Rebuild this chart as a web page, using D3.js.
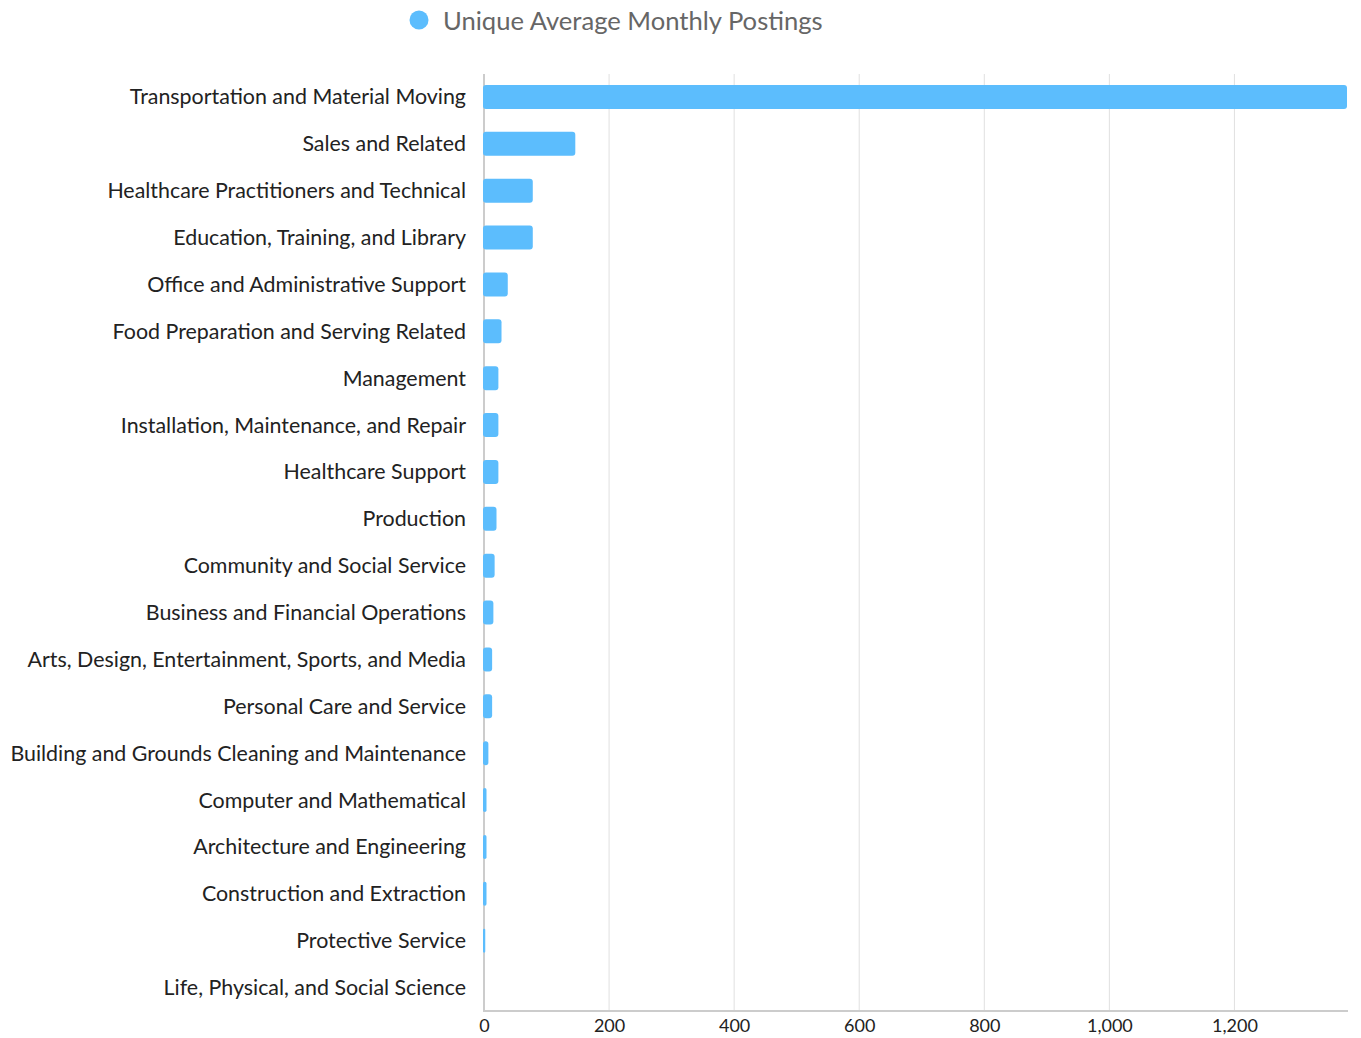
<!DOCTYPE html>
<html>
<head>
<meta charset="utf-8">
<script src="https://cdn.jsdelivr.net/npm/d3@7"></script>
<style>
  html, body { margin: 0; padding: 0; background: #fff; }
  svg text { font-family: Lato, "Open Sans", sans-serif; }
</style>
</head>
<body>
<div id="chart"></div>
<script>
// Occupation groups, largest first
const categories = [
  "Transportation and Material Moving",
  "Sales and Related",
  "Healthcare Practitioners and Technical",
  "Education, Training, and Library",
  "Office and Administrative Support",
  "Food Preparation and Serving Related",
  "Management",
  "Installation, Maintenance, and Repair",
  "Healthcare Support",
  "Production",
  "Community and Social Service",
  "Business and Financial Operations",
  "Arts, Design, Entertainment, Sports, and Media",
  "Personal Care and Service",
  "Building and Grounds Cleaning and Maintenance",
  "Computer and Mathematical",
  "Architecture and Engineering",
  "Construction and Extraction",
  "Protective Service",
  "Life, Physical, and Social Science"
];
const postings = [1380, 146, 78, 78, 38, 28, 23, 23, 23, 20, 17, 15, 13, 13, 7, 4, 4, 4, 2, 0];
const xTicks = [0, 200, 400, 600, 800, 1000, 1200];
const seriesName = "Unique Average Monthly Postings";

const W = 1361, H = 1038;
const margin = { top: 73.5, right: 14, bottom: 27, left: 484 };

const svg = d3.select("#chart").append("svg")
  .attr("width", W).attr("height", H);

const x = d3.scaleLinear()
  .domain([0, d3.max(postings)])
  .range([margin.left, W - margin.right]);

const y = d3.scaleBand()
  .domain(categories)
  .range([margin.top, H - margin.bottom])
  .paddingInner(0.49)
  .paddingOuter(0.245);

// vertical grid lines
svg.append("g")
  .selectAll("line")
  .data(xTicks.filter(d => d > 0))
  .join("line")
  .attr("x1", d => x(d)).attr("x2", d => x(d))
  .attr("y1", 74).attr("y2", H - margin.bottom)
  .attr("stroke", "#e0e0e0").attr("stroke-width", 1);

// left axis line
svg.append("line")
  .attr("x1", x(0)).attr("x2", x(0))
  .attr("y1", 74).attr("y2", H - margin.bottom)
  .attr("stroke", "#cccccc").attr("stroke-width", 2);

// bottom axis
const xAxis = svg.append("g")
  .attr("transform", `translate(0,${H - margin.bottom})`)
  .call(d3.axisBottom(x).tickValues(xTicks).tickFormat(d3.format(",")).tickSize(0).tickPadding(8));
xAxis.select(".domain").attr("stroke", "#cccccc").attr("stroke-width", 2)
  .attr("d", `M${x(0) - 1},0H${x.range()[1] + 1}`);
xAxis.selectAll("text")
  .attr("font-size", 18).attr("fill", "#222")
  .style("font-family", "Lato, sans-serif");

// bars, drawn over the axis line
const data = categories.map((c, i) => ({ c, v: postings[i] }));
svg.append("g")
  .selectAll("rect")
  .data(data.filter(d => d.v > 0))
  .join("rect")
  .attr("x", x(0) - 1)
  .attr("y", d => y(d.c))
  .attr("width", d => x(d.v) - x(0) + 1)
  .attr("height", y.bandwidth())
  .attr("rx", d => Math.min(3, (x(d.v) - x(0) + 1) / 2))
  .attr("fill", "#5cbdfd");

// category labels
svg.append("g")
  .selectAll("text")
  .data(categories)
  .join("text")
  .attr("x", 466)
  .attr("y", d => y(d) + y.bandwidth() / 2)
  .attr("dy", "0.35em")
  .attr("text-anchor", "end")
  .attr("font-size", 21.4)
  .attr("fill", "#222")
  .text(d => d);

// legend
const legend = svg.append("g");
legend.append("circle")
  .attr("cx", 419).attr("cy", 20).attr("r", 9.5)
  .attr("fill", "#5cbdfd");
legend.append("text")
  .attr("x", 443).attr("y", 21)
  .attr("dy", "0.35em")
  .attr("font-size", 25.6)
  .attr("fill", "#666")
  .text(seriesName);
</script>
</body>
</html>
